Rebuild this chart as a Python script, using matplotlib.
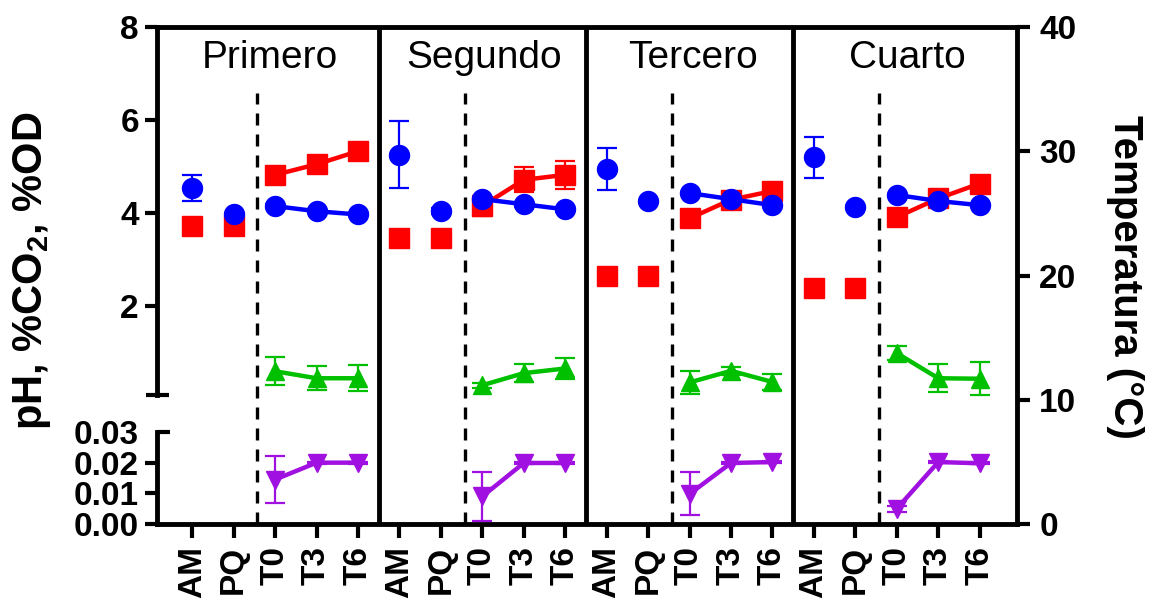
import matplotlib
matplotlib.use("Agg")
import matplotlib.pyplot as plt
import matplotlib.lines as mlines
import numpy as np

plt.rcParams["font.family"] = "Liberation Sans"
plt.rcParams["mathtext.fontset"] = "custom"
plt.rcParams["mathtext.rm"] = "Liberation Sans"
plt.rcParams["mathtext.bf"] = "Liberation Sans:bold"

# Sampling stages and trials
stages = ["AM", "PQ", "T0", "T3", "T6"]
trials = ["Primero", "Segundo", "Tercero", "Cuarto"]

# pH (left, upper segment)
ph_mean = [
    [4.54, 3.97, 4.15, 4.04, 3.97],
    [5.25, 4.04, 4.30, 4.19, 4.08],
    [4.95, 4.26, 4.43, 4.30, 4.17],
    [5.20, 4.13, 4.39, 4.26, 4.17],
]
ph_err = [
    [0.28, 0.04, 0.04, 0.04, 0.04],
    [0.72, 0.06, 0.05, 0.05, 0.05],
    [0.45, 0.03, 0.03, 0.03, 0.03],
    [0.44, 0.03, 0.03, 0.03, 0.03],
]

# Temperature (right axis)
temp_mean = [
    [24.0, 24.0, 28.1, 28.95, 30.0],
    [23.0, 23.0, 25.6, 27.7, 28.1],
    [20.0, 20.0, 24.6, 26.1, 26.8],
    [19.0, 19.0, 24.7, 26.2, 27.4],
]
temp_err = [
    [0.0, 0.0, 0.3, 0.3, 0.3],
    [0.0, 0.0, 0.8, 1.0, 1.1],
    [0.0, 0.0, 0.3, 0.5, 0.3],
    [0.0, 0.0, 0.3, 0.5, 0.3],
]

# %CO2 (left, upper segment), only T0, T3, T6
co2_mean = [
    [0.60, 0.45, 0.45],
    [0.30, 0.56, 0.66],
    [0.36, 0.61, 0.37],
    [0.99, 0.45, 0.44],
]
co2_err = [
    [0.30, 0.26, 0.28],
    [0.05, 0.20, 0.22],
    [0.25, 0.08, 0.17],
    [0.15, 0.30, 0.36],
]

# %OD (left, lower segment), only T0, T3, T6
od_mean = [
    [0.0145, 0.0200, 0.0200],
    [0.0090, 0.0199, 0.0199],
    [0.0098, 0.0199, 0.0202],
    [0.0050, 0.0202, 0.0198],
]
od_err = [
    [0.0077, 0.0003, 0.0003],
    [0.0080, 0.0003, 0.0003],
    [0.0070, 0.0003, 0.0003],
    [0.0010, 0.0003, 0.0003],
]

RED = "#ff0000"
BLUE = "#0000ff"
GREEN = "#00c000"
PURPLE = "#a010e0"
LW = 3.5
TICK_FS = 24

W, H = 1151, 601
fig = plt.figure(figsize=(W / 100, H / 100), dpi=100)


def fy(px):
    return 1 - px / H


left, right = 157 / W, 1017 / W
ax = fig.add_axes([left, fy(524), right - left, (524 - 27) / H])
axr = ax.twinx()
axu = fig.add_axes([left, fy(395), right - left, (395 - 27) / H], sharex=ax)
axl = fig.add_axes([left, fy(524), right - left, (524 - 432) / H], sharex=ax)

n = len(stages)
xs_all = np.arange(n * len(trials))
ax.set_xlim(-0.85, 19.9)
axr.set_ylim(0, 40)
axu.set_ylim(0.09, 8)
axl.set_ylim(0, 0.03)

eb = dict(capsize=7, elinewidth=1.6, capthick=1.6, clip_on=False)
title_x = [1.88, 7.05, 12.08, 17.25]

for k in range(len(trials)):
    x = xs_all[k * n:(k + 1) * n]
    # temperature
    axr.errorbar(x[:2], temp_mean[k][:2], yerr=temp_err[k][:2], fmt="s", ms=14.4,
                 color=RED, ecolor=RED, **eb)
    axr.errorbar(x[2:], temp_mean[k][2:], yerr=temp_err[k][2:], fmt="-s", ms=14.4,
                 lw=3.2, color=RED, ecolor=RED, **eb)
    # pH
    axu.errorbar(x[:2], ph_mean[k][:2], yerr=ph_err[k][:2], fmt="o", ms=14.4,
                 color=BLUE, ecolor=BLUE, **eb)
    axu.errorbar(x[2:], ph_mean[k][2:], yerr=ph_err[k][2:], fmt="-o", ms=14.4,
                 lw=3.2, color=BLUE, ecolor=BLUE, **eb)
    # %CO2
    axu.errorbar(x[2:], co2_mean[k], yerr=co2_err[k], fmt="-^", ms=13.5,
                 lw=3.2, color=GREEN, ecolor=GREEN, **eb)
    # %OD
    axl.errorbar(x[2:], od_mean[k], yerr=od_err[k], fmt="-v", ms=13.5,
                 lw=3.2, color=PURPLE, ecolor=PURPLE, **eb)

    # separators, dashed marker and trial name
    if k > 0:
        ax.axvline(k * n - 0.5, color="black", lw=LW)
    ax.axvline(k * n + 1.57, ymax=0.867, color="black", lw=2.4, dashes=(3.6, 2.7))
    ax.text(title_x[k], 0.938, trials[k], transform=ax.get_xaxis_transform(),
            ha="center", va="center", fontsize=28)

# main frame: top/bottom lines and stage ticks
for side in ["left", "right"]:
    ax.spines[side].set_visible(False)
for side in ["top", "bottom"]:
    ax.spines[side].set_linewidth(LW)
    ax.spines[side].set_capstyle("projecting")
ax.set_yticks([])
ax.set_xticks(xs_all)
ax.set_xticklabels(stages * len(trials), rotation=90, fontsize=TICK_FS,
                   fontweight="bold")
ax.tick_params(axis="x", length=10, width=3, pad=6)

# temperature axis
for side in ["left", "top", "bottom"]:
    axr.spines[side].set_visible(False)
axr.spines["right"].set_linewidth(LW)
axr.spines["right"].set_capstyle("projecting")
axr.set_yticks([0, 10, 20, 30, 40])
axr.tick_params(axis="y", length=9, width=3, labelsize=TICK_FS, pad=7)
for lab in axr.get_yticklabels():
    lab.set_fontweight("bold")

# broken left axis segments
for a in (axu, axl):
    a.patch.set_visible(False)
    for side in ["right", "top", "bottom"]:
        a.spines[side].set_visible(False)
    a.spines["left"].set_linewidth(LW)
    a.tick_params(axis="x", bottom=False, labelbottom=False)
    a.tick_params(axis="y", length=9, width=3, labelsize=TICK_FS, pad=4)

axu.set_yticks([2, 4, 6, 8])
axl.set_yticks([0, 0.01, 0.02, 0.03])
axl.set_yticklabels(["0.00", "0.01", "0.02", "0.03"])
for a in (axu, axl):
    for lab in a.get_yticklabels():
        lab.set_fontweight("bold")
axl.yaxis.get_major_ticks()[-1].tick1line.set_marker(mlines.TICKRIGHT)

# cap at the foot of the upper segment
ax_w = (right - left) * W
axu.plot([-11 / ax_w, 12 / ax_w], [0, 0], color="black", lw=3,
         transform=axu.transAxes, clip_on=False, solid_capstyle="butt")

fig.text(0.028, 0.55, "pH, %CO$_\\mathbf{2}$, %OD", rotation=90, ha="center",
         va="center", fontsize=30, fontweight="bold")
fig.text(0.977, 0.54, "Temperatura (°C)", rotation=270, ha="center",
         va="center", fontsize=29, fontweight="bold")

fig.savefig("out.png", dpi=100)
